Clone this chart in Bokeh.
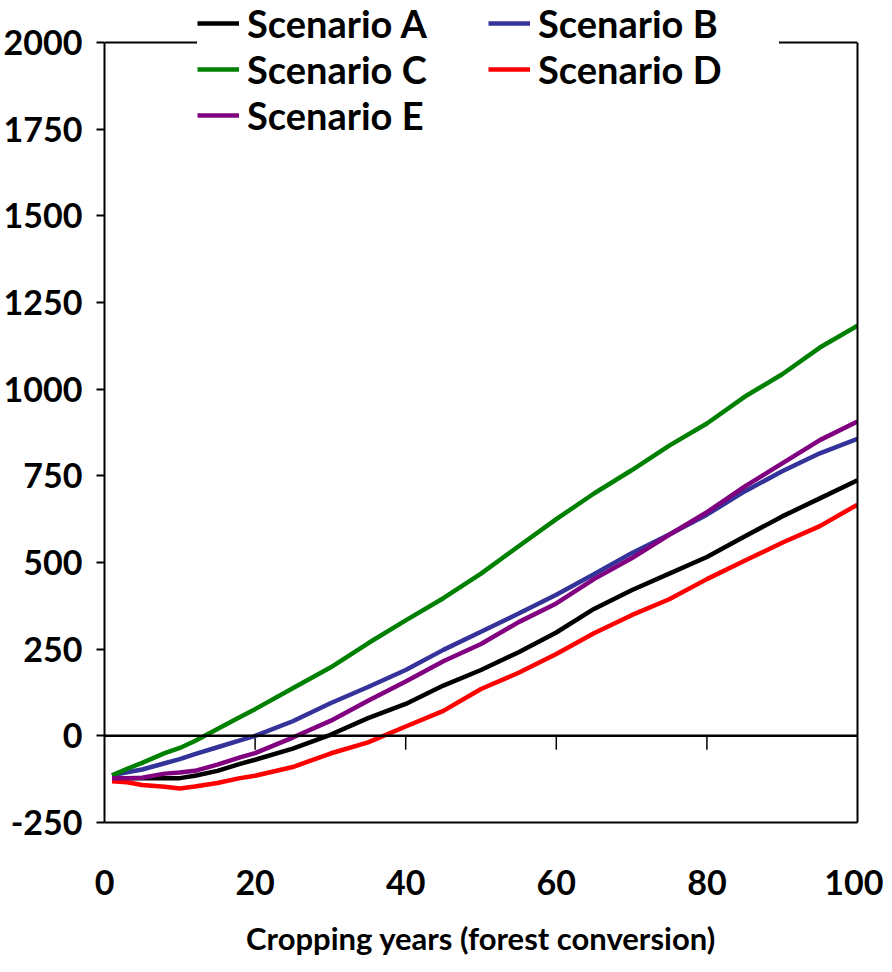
from bokeh.plotting import figure
from bokeh.models import Legend, LegendItem, Span, FixedTicker, ColumnDataSource, LinearAxis
from bokeh.embed import file_html
from bokeh.resources import INLINE

# ---- data ----
years = [1, 3, 5, 8, 10, 12, 15, 18, 20, 25, 30, 35, 40, 45, 50, 55, 60, 65, 70, 75, 80, 85, 90, 95, 100]
scenario_a = [-122, -122, -122, -122, -122, -115, -101, -81, -69, -37, 3, 51, 92, 145, 190, 241, 298, 366, 420, 468, 516, 575, 633, 685, 737]
scenario_b = [-114, -105, -97, -79, -67, -53, -33, -13, 0, 42, 94, 141, 190, 248, 300, 353, 407, 466, 527, 581, 638, 705, 763, 815, 857]
scenario_c = [-114, -95, -78, -50, -35, -15, 20, 54, 77, 137, 197, 267, 333, 397, 468, 547, 625, 699, 766, 837, 901, 978, 1043, 1120, 1183]
scenario_d = [-131, -134, -142, -147, -152, -146, -136, -122, -115, -90, -51, -19, 27, 72, 135, 182, 236, 296, 348, 394, 452, 505, 557, 605, 667]
scenario_e = [-122, -122, -121, -109, -106, -101, -83, -62, -50, -5, 43, 101, 157, 215, 265, 328, 382, 452, 512, 580, 645, 719, 786, 853, 907]

series_names = ["Scenario A", "Scenario B", "Scenario C", "Scenario D", "Scenario E"]
series_values = [scenario_a, scenario_b, scenario_c, scenario_d, scenario_e]
series_colors = ["#000000", "#333399", "#008000", "#FF0000", "#800080"]

x_ticks = [0, 20, 40, 60, 80, 100]
y_ticks = [-250, 0, 250, 500, 750, 1000, 1250, 1500, 1750, 2000]
y_tick_labels = ["-250", "0", "250", "500", "750", "1000", "1250", "1500", "1750", "2000"]
zero_ticks = [20, 40, 60, 80]
y_min, y_max = -250, 2000

FONT = "Lato"

# layout: the box of the chart is 780 px tall; leave 42 px above it for the legend
box_h = 780
top_gap = 42
y_top = y_max + top_gap * (y_max - y_min) / box_h

p = figure(width=883, height=963, x_range=(0, 100), y_range=(y_min, y_top),
           output_backend="svg", toolbar_location=None,
           min_border_left=104, min_border_right=26, min_border_top=0, min_border_bottom=141)
p.background_fill_color = "white"
p.border_fill_color = "white"
p.grid.visible = False
p.outline_line_color = None

# axes
p.xaxis.ticker = FixedTicker(ticks=x_ticks)
p.yaxis.ticker = FixedTicker(ticks=y_ticks)
p.yaxis.major_label_overrides = {t: s for t, s in zip(y_ticks, y_tick_labels)}
for ax in (p.xaxis[0], p.yaxis[0]):
    ax.axis_line_color = "black"
    ax.axis_line_width = 2
    ax.minor_tick_line_color = None
    ax.major_label_text_font = FONT
    ax.major_label_text_font_style = "bold"
    ax.major_label_text_font_size = "34px"
    ax.major_label_text_color = "black"
    ax.major_tick_line_color = "black"
    ax.major_tick_line_width = 2
p.yaxis.bounds = (y_min, y_max)
p.yaxis.major_tick_in = 0
p.yaxis.major_tick_out = 8
p.yaxis.major_label_standoff = 14
p.xaxis.major_tick_in = 0
p.xaxis.major_tick_out = 0
p.xaxis.major_label_standoff = 47
p.xaxis.axis_label = "Cropping years (forest conversion)"
p.xaxis.axis_label_text_font = FONT
p.xaxis.axis_label_text_font_style = "bold"
p.xaxis.axis_label_text_font_size = "31px"
p.xaxis.axis_label_text_color = "black"
p.xaxis.axis_label_standoff = 21

# right border as a bare axis
right_ax = LinearAxis(bounds=(y_min, y_max), ticker=FixedTicker(ticks=[]),
                      axis_line_color="black", axis_line_width=2,
                      major_tick_line_color=None, minor_tick_line_color=None,
                      major_label_text_font_size="0px")
p.add_layout(right_ax, "right")

# top border and zero line
p.add_layout(Span(location=y_max, dimension="width", line_color="black", line_width=2))
p.add_layout(Span(location=0, dimension="width", line_color="black", line_width=2.5))
tick_src = ColumnDataSource(dict(x=zero_ticks, y0=[0] * len(zero_ticks), y1=[-40] * len(zero_ticks)))
p.segment(x0="x", y0="y0", x1="x", y1="y1", source=tick_src, line_color="black", line_width=1.5)

items = []
for name, vals, col in zip(series_names, series_values, series_colors):
    r = p.line(years, vals, line_color=col, line_width=4.5)
    items.append(LegendItem(label=name, renderers=[r]))

legend = Legend(items=items, location=(93, 684), orientation="horizontal", ncols=2,
                label_text_font=FONT, label_text_font_style="bold",
                label_text_font_size="38px", label_text_color="black",
                label_height=46, glyph_height=46, glyph_width=42, label_standoff=8,
                label_width=241, spacing=0, padding=5, margin=0,
                border_line_color=None, background_fill_color="white", background_fill_alpha=1.0)
p.add_layout(legend, "center")

open("out.html", "w").write(file_html(p, INLINE))
